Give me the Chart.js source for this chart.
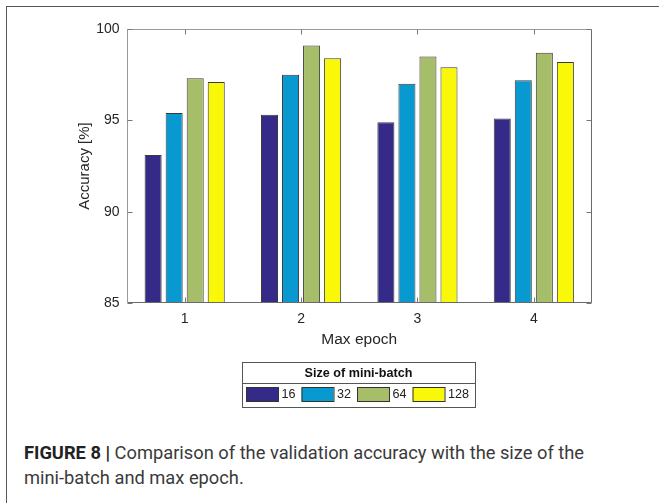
<!DOCTYPE html>
<html>
<head>
<meta charset="utf-8">
<title>Validation accuracy vs mini-batch size</title>
<script src="https://cdn.jsdelivr.net/npm/chart.js@4"></script>
<style>
html, body { margin: 0; padding: 0; background: #fff; width: 659px; height: 503px; overflow: hidden; }
#frame { position: absolute; left: 6px; top: 6px; width: 720px; height: 620px; border-top: 1.5px solid #555; border-left: 1.5px solid #555; }
#wrap { position: absolute; left: 0; top: 0; width: 659px; height: 420px; }
#caption { position: absolute; left: 24px; top: 440px; font-family: Roboto, "Liberation Sans", sans-serif; font-size: 18.3px; line-height: 25px; color: #3a3a3a; white-space: nowrap; }
#caption b { color: #222; }
</style>
</head>
<body>
<div id="frame"></div>
<div id="wrap"><canvas id="chart"></canvas></div>
<div id="caption"><b>FIGURE 8 |</b> Comparison of the validation accuracy with the size of the<br>mini-batch and max epoch.</div>
<script>
// values
const epochs = ['1', '2', '3', '4'];
const batchSizes = ['16', '32', '64', '128'];
const acc16 = [93.1, 95.3, 94.9, 95.1];
const acc32 = [95.4, 97.5, 97.0, 97.2];
const acc64 = [97.3, 99.1, 98.5, 98.7];
const acc128 = [97.1, 98.4, 97.9, 98.2];
const yTicks = [85, 90, 95, 100];

const barColors = ['#352a87', '#0899d0', '#a6be69', '#f8f808'];
const seriesData = [acc16, acc32, acc64, acc128];

const FONT = '"Liberation Sans", Arial, sans-serif';

// matlab style box with inward ticks
const axesBox = {
    id: 'axesBox',
    afterDatasetsDraw(chart) {
        const { ctx, chartArea: a, scales: { x, y } } = chart;
        const l = Math.round(a.left) + 0.5, r = Math.round(a.right) - 0.5;
        const t = Math.round(a.top) + 0.5, b = Math.round(a.bottom) - 0.5;
        ctx.save();
        ctx.lineWidth = 1;
        ctx.strokeStyle = '#999';
        ctx.beginPath();
        ctx.moveTo(l, b); ctx.lineTo(l, t); ctx.lineTo(r, t);
        ctx.stroke();
        ctx.strokeStyle = '#6a6a6a';
        ctx.beginPath();
        ctx.moveTo(r, t); ctx.lineTo(r, b); ctx.lineTo(l, b);
        ctx.stroke();
        ctx.strokeStyle = '#777';
        ctx.beginPath();
        x.ticks.forEach((tk, i) => {
            const px = Math.round(x.getPixelForTick(i)) + 0.5;
            ctx.moveTo(px, t); ctx.lineTo(px, t + 5);
            ctx.moveTo(px, b); ctx.lineTo(px, b - 5);
        });
        y.ticks.forEach(tk => {
            const py = Math.round(y.getPixelForValue(tk.value)) + 0.5;
            ctx.moveTo(l, py); ctx.lineTo(l + 5, py);
            ctx.moveTo(r, py); ctx.lineTo(r - 5, py);
        });
        ctx.stroke();
        ctx.restore();
    }
};

// legend box with a title row, drawn under the axes
const legendBox = {
    id: 'legendBox',
    afterDraw(chart) {
        const ctx = chart.ctx;
        const bx = 242, by = 362, bw = 233, bh = 45;
        ctx.save();
        ctx.fillStyle = '#fff';
        ctx.fillRect(bx, by, bw, bh);
        ctx.strokeStyle = '#555';
        ctx.lineWidth = 1;
        ctx.strokeRect(bx + 0.5, by + 0.5, bw, bh);
        ctx.beginPath();
        ctx.moveTo(bx, by + 21.5); ctx.lineTo(bx + bw, by + 21.5);
        ctx.stroke();

        ctx.fillStyle = '#111';
        ctx.textBaseline = 'middle';
        ctx.textAlign = 'center';
        ctx.font = 'bold 12.6px ' + FONT;
        ctx.fillText('Size of mini-batch', bx + bw / 2, by + 11.5);

        ctx.textAlign = 'left';
        ctx.font = '12.6px ' + FONT;
        let cx = 246;
        chart.data.datasets.forEach(ds => {
            ctx.fillStyle = ds.backgroundColor;
            ctx.fillRect(cx, 387.5, 32, 14);
            ctx.strokeStyle = '#333';
            ctx.strokeRect(cx + 0.5, 387.5, 32, 14);
            ctx.fillStyle = '#222';
            ctx.fillText(ds.label, cx + 35.5, 395);
            cx += 35.5 + ctx.measureText(ds.label).width + 6;
        });
        ctx.restore();
    }
};

new Chart(document.getElementById('chart'), {
    type: 'bar',
    data: {
        labels: epochs,
        datasets: batchSizes.map((b, i) => ({
            label: b,
            data: seriesData[i],
            backgroundColor: barColors[i],
            borderColor: '#3a3a3a',
            borderWidth: 1,
            borderSkipped: 'start',
            categoryPercentage: 0.723,
            barPercentage: 0.81
        }))
    },
    options: {
        responsive: true,
        maintainAspectRatio: false,
        animation: false,
        layout: { padding: { left: 76, top: 29, right: 67, bottom: 71 } },
        plugins: { legend: { display: false }, tooltip: { enabled: false } },
        scales: {
            x: {
                grid: { display: false, drawTicks: false },
                border: { display: false },
                ticks: { color: '#262626', padding: 7.3, font: { family: FONT, size: 14 } },
                title: { display: true, text: 'Max epoch', color: '#262626', padding: 0, font: { family: FONT, size: 15.5 } },
                afterFit: s => { s.height = 46; }
            },
            y: {
                min: 85,
                max: 100,
                grid: { display: false, drawTicks: false },
                border: { display: false },
                afterBuildTicks: s => { s.ticks = yTicks.map(v => ({ value: v })); },
                ticks: { color: '#262626', padding: 7, font: { family: FONT, size: 14 } },
                title: { display: true, text: 'Accuracy [%]', color: '#262626', padding: 0, font: { family: FONT, size: 15 } },
                afterFit: s => { s.width = 50.5; }
            }
        }
    },
    plugins: [axesBox, legendBox]
});
</script>
</body>
</html>
